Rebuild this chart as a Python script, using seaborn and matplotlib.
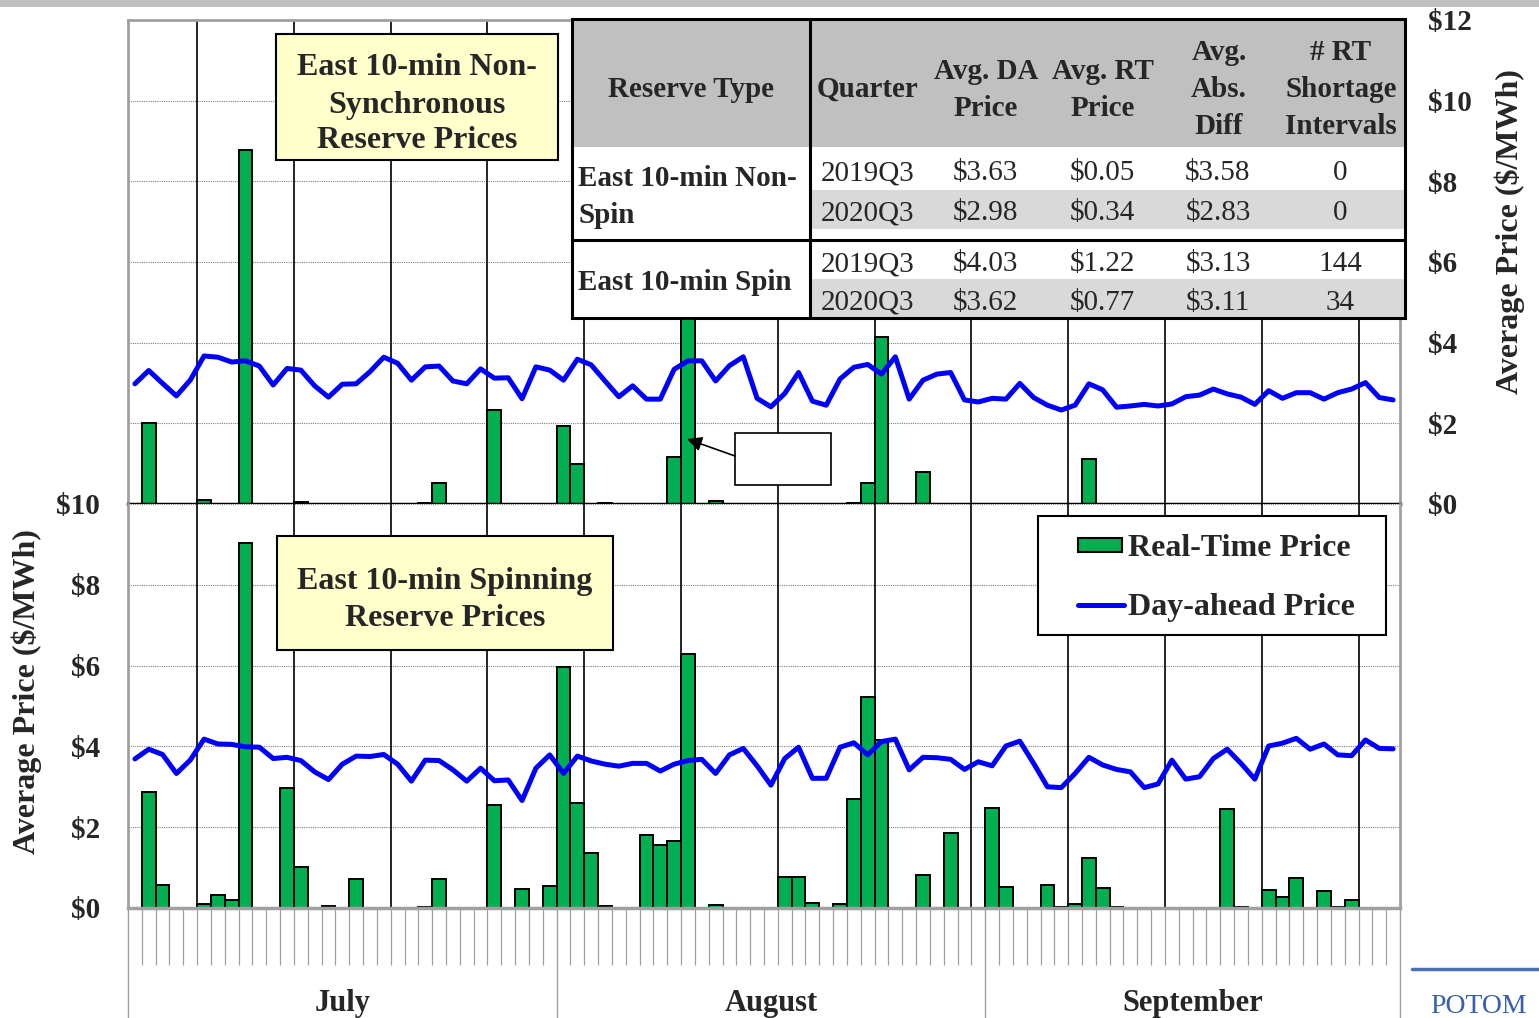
import numpy as np
import pandas as pd
import matplotlib
matplotlib.use("Agg")
import matplotlib.pyplot as plt
import matplotlib.transforms as mtransforms
from matplotlib.patches import Rectangle
import seaborn as sns

# ---------------- data ----------------
days = list(range(92))  # July 1 .. Sep 30
months = ["July", "August", "September"]
month_centers = [15, 46, 76.5]
month_bounds = [-0.5, 30.5, 61.5, 91.5]

nonspin_da = [2.98, 3.31, 2.99, 2.68, 3.07, 3.67, 3.64, 3.52, 3.55, 3.42,
              2.95, 3.36, 3.32, 2.93, 2.65, 2.97, 2.98, 3.28, 3.64, 3.49,
              3.07, 3.40, 3.42, 3.05, 2.98, 3.35, 3.12, 3.13, 2.61, 3.40,
              3.32, 3.07, 3.59, 3.45, 3.05, 2.66, 2.93, 2.60, 2.60, 3.34,
              3.55, 3.55, 3.05, 3.43, 3.65, 2.62, 2.41, 2.74, 3.26, 2.55,
              2.45, 3.10, 3.39, 3.46, 3.22, 3.65, 2.60, 3.07, 3.22, 3.26,
              2.58, 2.53, 2.62, 2.60, 2.99, 2.64, 2.45, 2.33, 2.45, 2.98,
              2.83, 2.40, 2.43, 2.47, 2.43, 2.48, 2.66, 2.70, 2.85, 2.73,
              2.65, 2.47, 2.81, 2.62, 2.76, 2.76, 2.60, 2.76, 2.85, 3.01,
              2.64, 2.58]

nonspin_rt = [0, 2.00, 0, 0, 0, 0.10, 0, 0, 8.78, 0,
              0, 0, 0.05, 0, 0, 0, 0, 0, 0, 0,
              0, 0.02, 0.53, 0, 0, 0, 2.33, 0.01, 0, 0,
              0, 1.93, 0.98, 0, 0.03, 0, 0, 0, 0, 1.16,
              6.70, 0, 0.07, 0, 0, 0, 0, 0, 0, 0,
              0, 0, 0.03, 0.53, 4.15, 0.01, 0, 0.80, 0, 0,
              0, 0, 0, 0, 0, 0, 0, 0, 0, 1.11,
              0, 0, 0, 0, 0, 0, 0, 0, 0, 0,
              0, 0, 0, 0, 0, 0, 0, 0, 0, 0,
              0, 0]

spin_da = [3.69, 3.93, 3.80, 3.33, 3.66, 4.18, 4.06, 4.05, 3.99, 3.98,
           3.70, 3.73, 3.65, 3.37, 3.18, 3.56, 3.76, 3.75, 3.80, 3.56,
           3.14, 3.66, 3.65, 3.42, 3.14, 3.46, 3.15, 3.17, 2.66, 3.46,
           3.79, 3.33, 3.76, 3.64, 3.56, 3.51, 3.58, 3.58, 3.39, 3.56,
           3.65, 3.68, 3.33, 3.79, 3.95, 3.52, 3.04, 3.70, 3.98, 3.21,
           3.21, 3.98, 4.09, 3.79, 4.12, 4.18, 3.42, 3.73, 3.72, 3.68,
           3.43, 3.62, 3.52, 4.01, 4.13, 3.58, 3.00, 2.98, 3.33, 3.73,
           3.54, 3.43, 3.37, 2.98, 3.07, 3.66, 3.19, 3.25, 3.70, 3.93,
           3.58, 3.19, 4.01, 4.08, 4.20, 3.93, 4.06, 3.79, 3.77, 4.16,
           3.95, 3.94]

spin_rt = [0, 2.86, 0.57, 0.01, 0.01, 0.09, 0.31, 0.21, 9.03, 0,
           0, 2.97, 1.01, 0, 0.06, 0, 0.71, 0, 0.01, 0,
           0, 0.03, 0.72, 0, 0, 0.01, 2.55, 0, 0.47, 0,
           0.54, 5.96, 2.59, 1.35, 0.04, 0, 0.01, 1.81, 1.56, 1.66,
           6.29, 0, 0.07, 0, 0.01, 0, 0, 0.76, 0.76, 0.13,
           0, 0.10, 2.70, 5.23, 4.16, 0.01, 0, 0.82, 0, 1.85,
           0, 0.01, 2.48, 0.53, 0, 0, 0.57, 0.03, 0.10, 1.23,
           0.49, 0.02, 0, 0, 0.01, 0, 0, 0, 0.01, 2.44,
           0.03, 0, 0.45, 0.28, 0.74, 0, 0.41, 0.02, 0.21, 0.01,
           0, 0]

top_ticks = [0, 2, 4, 6, 8, 10, 12]
bot_ticks = [0, 2, 4, 6, 8, 10]

table_header = ["Reserve Type", "Quarter", "Avg. DA\nPrice", "Avg. RT\nPrice",
                "Avg.\nAbs.\nDiff", "# RT\nShortage\nIntervals"]
table_types = ["East 10-min Non-\nSpin", "East 10-min Spin"]
table_quarters = ["2019Q3", "2020Q3", "2019Q3", "2020Q3"]
table_da = ["$3.63", "$2.98", "$4.03", "$3.62"]
table_rt = ["$0.05", "$0.34", "$1.22", "$0.77"]
table_diff = ["$3.58", "$2.83", "$3.13", "$3.11"]
table_short = ["0", "0", "144", "34"]

# ---------------- style ----------------
sns.set_theme(style="white")
plt.rcParams['font.family'] = ['Liberation Serif', 'DejaVu Serif']
plt.rcParams['font.weight'] = 'bold'

GREEN = "#00b050"
BLUE = "#0000ff"
GRAY = "#a0a0a0"

W, H = 1539, 1018
fig = plt.figure(figsize=(W / 100, H / 100), dpi=100)


def fx(px):
    return px / W


def fy(py):
    return 1 - py / H


L, R = 128, 1400
ax_t = fig.add_axes([fx(L), fy(504), (R - L) / W, (504 - 20) / H])
ax_b = fig.add_axes([fx(L), fy(908), (R - L) / W, (908 - 504) / H])

week_lines = np.arange(4.5, 91, 7)

panels = [(ax_t, nonspin_rt, nonspin_da, 12), (ax_b, spin_rt, spin_da, 10)]
for ax, rt, da, ymax in panels:
    df = pd.DataFrame({"day": days, "rt": rt, "da": da})
    sns.barplot(data=df[df.rt > 0], x="day", y="rt", order=days, color=GREEN,
                saturation=1, width=1.0, edgecolor="black", linewidth=1.4,
                errorbar=None, ax=ax, zorder=2)
    sns.lineplot(data=df, x="day", y="da", color=BLUE, lw=3.6, ax=ax,
                 zorder=4, solid_joinstyle="round", solid_capstyle="round")
    ax.set_xlim(-0.5, 91.5)
    ax.set_ylim(0, ymax)
    ax.set_xlabel("")
    ax.set_ylabel("")
    ax.set_axisbelow(True)
    ax.grid(axis="y", linestyle=(0, (1, 1)), color="#808080", lw=0.8)
    ax.grid(axis="x", visible=False)
    for x in week_lines:
        ax.axvline(x, color="black", lw=1.2, zorder=1.5)
    for s in ax.spines.values():
        s.set_color(GRAY)
        s.set_linewidth(2)

# top panel axis
ax_t.set_xticks([])
ax_t.yaxis.tick_right()
ax_t.set_yticks(top_ticks)
ax_t.set_yticklabels([f"${v}" for v in top_ticks])
ax_t.tick_params(axis="y", length=0, pad=20, labelsize=21, right=False, left=False)
ax_t.spines["bottom"].set_color("black")
ax_t.spines["bottom"].set_linewidth(2.5)
ax_t.spines["bottom"].set_zorder(5)

# bottom panel axis: daily ticks (major) and month separators (minor)
ax_b.spines["top"].set_visible(False)
ax_b.spines["bottom"].set_linewidth(2.5)
ax_b.set_yticks(bot_ticks)
ax_b.set_yticklabels([f"${v}" for v in bot_ticks])
ax_b.tick_params(axis="y", length=0, pad=20, labelsize=21, left=False)
day_bounds = [b for b in np.arange(-0.5, 92, 1) if b not in month_bounds]
ax_b.set_xticks(day_bounds)
ax_b.set_xticklabels([])
ax_b.set_xticks(month_bounds, minor=True)
ax_b.set_xticklabels([], minor=True)
ax_b.tick_params(axis="x", which="major", bottom=True, length=41, width=0.9,
                 color=GRAY, direction="out", labelbottom=False)
ax_b.tick_params(axis="x", which="minor", bottom=True, length=82, width=1.0,
                 color=GRAY, direction="out", labelbottom=False)

blend = mtransforms.blended_transform_factory(ax_b.transData, fig.transFigure)
for m, c in zip(months, month_centers):
    ax_b.text(c, fy(1003), m, transform=blend, ha="center", va="center",
              fontsize=22, fontweight="bold")

# ---------------- overlay (annotations, table, legend) ----------------
ov = fig.add_axes([0, 0, 1, 1], zorder=10)
ov.set_xlim(0, W)
ov.set_ylim(H, 0)
ov.axis("off")

DY = 3  # vertical nudge so glyphs sit like the reference


def rect(x0, y0, x1, y1, fc, ec="none", lw=0):
    ov.add_patch(Rectangle((x0, y0), x1 - x0, y1 - y0, facecolor=fc,
                           edgecolor=ec, linewidth=lw))


def lines(x, ys, txt, size=21, weight="bold", ha="center"):
    for y, t in zip(ys, txt.split("\n")):
        ov.text(x, y + DY, t, ha=ha, va="center", fontsize=size, fontweight=weight)


# top page band
rect(0, 0, W, 7, "#c0c0c0")

# table
rect(572, 19, 1405, 147, "#c0c0c0")
rect(572, 147, 1405, 318, "white")
rect(810, 190, 1405, 229, "#d9d9d9")
rect(810, 279, 1405, 317, "#d9d9d9")
rect(572, 19, 1405, 318, "none", "black", 2.2)
ov.plot([810, 810], [19, 318], color="black", lw=2.2)
ov.plot([572, 1405], [240, 240], color="black", lw=2.2)

hdr_x = [691, 868, 986, 1103, 1219, 1341]
for x, t in zip(hdr_x, table_header):
    n = t.count("\n") + 1
    ys = {1: [86], 2: [68, 105], 3: [49, 86, 123]}[n]
    lines(x, ys, t)
lines(578, [175, 212], table_types[0], ha="left")
lines(578, [280], table_types[1], ha="left")
row_y = [170, 210, 261, 300]
for i, y in enumerate(row_y):
    for x, col in zip([868, 985, 1102, 1218, 1340],
                      [table_quarters, table_da, table_rt, table_diff, table_short]):
        lines(x, [y], col[i], weight="normal")

# title boxes
rect(276, 34, 558, 160, "#ffffcc", "black", 1.5)
lines(417, [64, 102, 137], "East 10-min Non-\nSynchronous\nReserve Prices", size=23)
rect(277, 536, 613, 650, "#ffffcc", "black", 1.5)
lines(445, [579, 616], "East 10-min Spinning\nReserve Prices", size=23)

# empty callout with arrow
rect(735, 433, 831, 485, "white", "black", 1.2)
ov.annotate("", xy=(687, 439), xytext=(735, 456),
            arrowprops=dict(arrowstyle="-|>", color="black", lw=1.2,
                            mutation_scale=22, shrinkA=0, shrinkB=0))

# legend
rect(1038, 516, 1386, 635, "white", "black", 1.5)
rect(1078, 538, 1122, 552, GREEN, "black", 1.5)
ov.plot([1078, 1124], [605, 605], color=BLUE, lw=3.6, solid_capstyle="round")
lines(1128, [545], "Real-Time Price", size=23, ha="left")
lines(1128, [605], "Day-ahead Price", size=23, ha="left")

# axis titles
ov.text(27, 692, "Average Price ($/MWh)", rotation=90, ha="center", va="center",
        fontsize=23, fontweight="bold")
ov.text(1510, 232, "Average Price ($/MWh)", rotation=90, ha="center", va="center",
        fontsize=23, fontweight="bold")

# logo fragment
ov.plot([1412, W], [969, 969], color="#4a6fb5", lw=2.5)
ov.text(1430, 1013, "POTOM", ha="left", va="baseline", fontsize=20,
        fontweight="normal", color="#3a5fb0")

fig.savefig("out.png", dpi=100)
